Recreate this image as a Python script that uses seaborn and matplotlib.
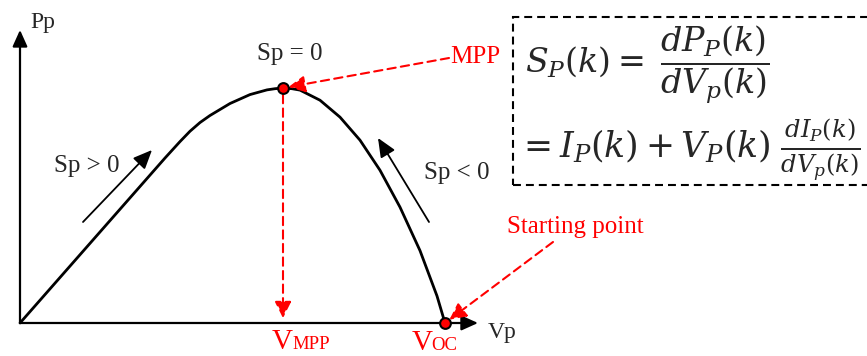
import matplotlib
matplotlib.use("Agg")
import matplotlib.pyplot as plt
from matplotlib.patches import Rectangle
import seaborn as sns

# P-V characteristic of the PV array: terminal voltage and output power
voltage = [0, 7.0, 14.5, 16.0, 17.0, 18.0, 19.0, 21.0, 23.0, 24.7, 25.5,
           26.3, 27.2, 28.0, 30.0, 32.0, 34.0, 36.0, 38.0, 40.0, 41.7, 42.5]
power = [0, 33.9, 70.2, 77.2, 81.6, 85.3, 88.3, 93.4, 97.2, 99.2, 99.7,
         100.0, 99.7, 99.1, 94.8, 87.6, 77.8, 65.0, 49.3, 30.8, 11.5, 0]

# Maximum power point and open-circuit point
v_mpp, p_mpp = 26.3, 100.0
v_oc, p_oc = 42.5, 0.0

sns.set_theme(style="white")
plt.rcParams["font.family"] = ["Liberation Serif", "DejaVu Serif"]
plt.rcParams["mathtext.fontset"] = "dejavuserif"

W, H = 867, 356
fig = plt.figure(figsize=(W / 100, H / 100), dpi=100)
fig.patch.set_facecolor("white")
ax = fig.add_axes([0, 0, 1, 1])
ax.set_xlim(-2.0, 84.7)
ax.set_ylim(-14.043, 137.447)
ax.axis("off")


def fp(px, py):
    """Pixel position (from top-left) to figure fraction."""
    return (px / W, 1 - py / H)


# Coordinate axes with arrow heads
axis_kw = dict(arrowstyle="-|>,head_length=1.0,head_width=0.45",
               mutation_scale=10, color="black", lw=1.6,
               shrinkA=0, shrinkB=0)
ax.annotate("", xy=(0, 124.7), xytext=(0, 0), arrowprops=axis_kw)
ax.annotate("", xy=(45.8, 0), xytext=(0, 0), arrowprops=axis_kw)
fig.text(*fp(30, 28), "Pp", fontsize=17, va="baseline", ha="left")
fig.text(*fp(488, 338), "Vp", fontsize=17, va="baseline", ha="left")

# P-V curve
sns.lineplot(x=voltage, y=power, color="black", lw=2.0, ax=ax,
             legend=False, zorder=3)

# Direction arrows along both slopes
dir_kw = dict(arrowstyle="-|>,head_length=1.15,head_width=0.5",
              mutation_scale=10, color="black", lw=1.3,
              shrinkA=0, shrinkB=0)
ax.annotate("", xy=fp(152, 150), xycoords="figure fraction",
            xytext=fp(83, 222), textcoords="figure fraction",
            arrowprops=dir_kw)
ax.annotate("", xy=fp(378, 138), xycoords="figure fraction",
            xytext=fp(429, 222), textcoords="figure fraction",
            arrowprops=dir_kw)
fig.text(*fp(54, 172), "Sp > 0", fontsize=18, va="baseline", ha="left")
fig.text(*fp(424, 179), "Sp < 0", fontsize=18, va="baseline", ha="left")
fig.text(*fp(257, 60), "Sp = 0", fontsize=18, va="baseline", ha="left")

# Red dashed pointers
red_kw = dict(arrowstyle="-|>,head_length=1.0,head_width=0.5",
              mutation_scale=10, color="red", lw=1.5,
              linestyle=(0, (4, 2.5)))
ax.annotate("", xy=(v_mpp, p_mpp), xytext=fp(449, 58),
            textcoords="figure fraction",
            arrowprops=dict(red_kw, shrinkA=0, shrinkB=4))
ax.annotate("", xy=(v_mpp, 2.1), xytext=(v_mpp, p_mpp),
            arrowprops=dict(red_kw, shrinkA=5, shrinkB=0))
ax.annotate("", xy=(v_oc, p_oc), xytext=fp(553, 242),
            textcoords="figure fraction",
            arrowprops=dict(red_kw, shrinkA=0, shrinkB=4))

fig.text(*fp(450, 63), "MPP", fontsize=18, color="red",
         va="baseline", ha="left")
fig.text(*fp(507, 233), "Starting point", fontsize=18, color="red",
         va="baseline", ha="left")
fig.text(*fp(272, 349), "V", fontsize=21, color="red",
         va="baseline", ha="left")
fig.text(*fp(292, 349), "MPP", fontsize=13.5, color="red",
         va="baseline", ha="left")
fig.text(*fp(412, 350), "V", fontsize=21, color="red",
         va="baseline", ha="left")
fig.text(*fp(431, 350), "OC", fontsize=13.5, color="red",
         va="baseline", ha="left")

# MPP and open-circuit markers
sns.scatterplot(x=[v_mpp, v_oc], y=[p_mpp, p_oc], s=60, color="red",
                edgecolor="black", linewidth=1.5, ax=ax, zorder=6,
                legend=False)

# Dashed formula box
x0, y0 = fp(513, 185)
x1, y1 = fp(885, 17)
ax.add_patch(Rectangle((x0, y0), x1 - x0, y1 - y0, transform=fig.transFigure,
                       fill=False, edgecolor="black", lw=1.5,
                       linestyle=(0, (3.8, 2.4)), clip_on=False))
fig.text(*fp(525, 72), r"$S_P(k) =\;\dfrac{dP_P(k)}{dV_p(k)}$",
         fontsize=24, va="baseline", ha="left")
fig.text(*fp(517, 158), r"$= I_P(k) + V_P(k)\;\frac{dI_P(k)}{dV_p(k)}$",
         fontsize=25, va="baseline", ha="left")

fig.savefig("out.png", dpi=100, facecolor="white")
